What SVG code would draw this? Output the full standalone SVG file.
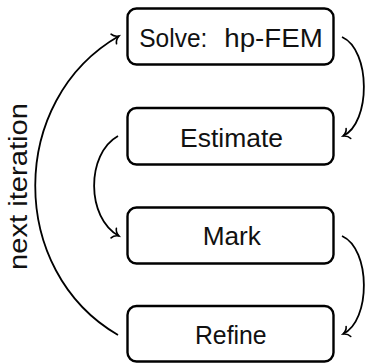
<svg xmlns="http://www.w3.org/2000/svg" width="368" height="364" viewBox="0 0 368 364">
<style>
.box{fill:#fff;stroke:#000;stroke-width:2.4}
.lbl{font-family:"Liberation Sans",Arial,sans-serif;font-size:26px;fill:#111}
.c{text-anchor:middle}
.edge{fill:none;stroke:#000;stroke-width:1.8;marker-end:url(#to)}
</style>
<defs>
<marker id="to" markerUnits="userSpaceOnUse" viewBox="-8 -7 10 14" markerWidth="10" markerHeight="14" refX="0" refY="0" orient="auto" overflow="visible">
<path d="M-6,-5.5 C-5,-2.5 -2,-0.7 0,0 C-2,0.7 -5,2.5 -6,5.5" fill="none" stroke="#000" stroke-width="1.6" stroke-linecap="round"/>
</marker>
</defs>
<rect width="368" height="364" fill="#fff"/>
<g id="connectors">
<path class="edge" d="M342,37 C371,50 371,123 343,136"/>
<path class="edge" d="M118,136 C86,154 86,218 119,236"/>
<path class="edge" d="M342,236 C371,249 371,321 343,334"/>
<path class="edge" d="M118,335 C7.5,271 7.5,100 119,36"/>
</g>
<g id="solve">
<rect class="box" x="127.5" y="8.5" width="206" height="56" rx="9"/>
<text class="lbl" x="139.3" y="46.7" textLength="68" lengthAdjust="spacingAndGlyphs">Solve:</text>
<text class="lbl" x="224.3" y="46.7" textLength="98.4" lengthAdjust="spacingAndGlyphs">hp-FEM</text>
</g>
<g id="estimate">
<rect class="box" x="127.5" y="108" width="206" height="56.5" rx="9"/>
<text class="lbl c" x="231.5" y="146.7" textLength="103" lengthAdjust="spacingAndGlyphs">Estimate</text>
</g>
<g id="mark">
<rect class="box" x="127.5" y="207.5" width="206" height="56" rx="9"/>
<text class="lbl c" x="231.8" y="244.7" textLength="58.3" lengthAdjust="spacingAndGlyphs">Mark</text>
</g>
<g id="refine">
<rect class="box" x="127.5" y="306" width="206" height="55.5" rx="9"/>
<text class="lbl c" x="230.8" y="343.7" textLength="71.7" lengthAdjust="spacingAndGlyphs">Refine</text>
</g>
<g id="label">
<text class="lbl c" transform="translate(27.4,186.5) rotate(-90)" x="0" y="0" textLength="167" lengthAdjust="spacingAndGlyphs">next iteration</text>
</g>
</svg>
